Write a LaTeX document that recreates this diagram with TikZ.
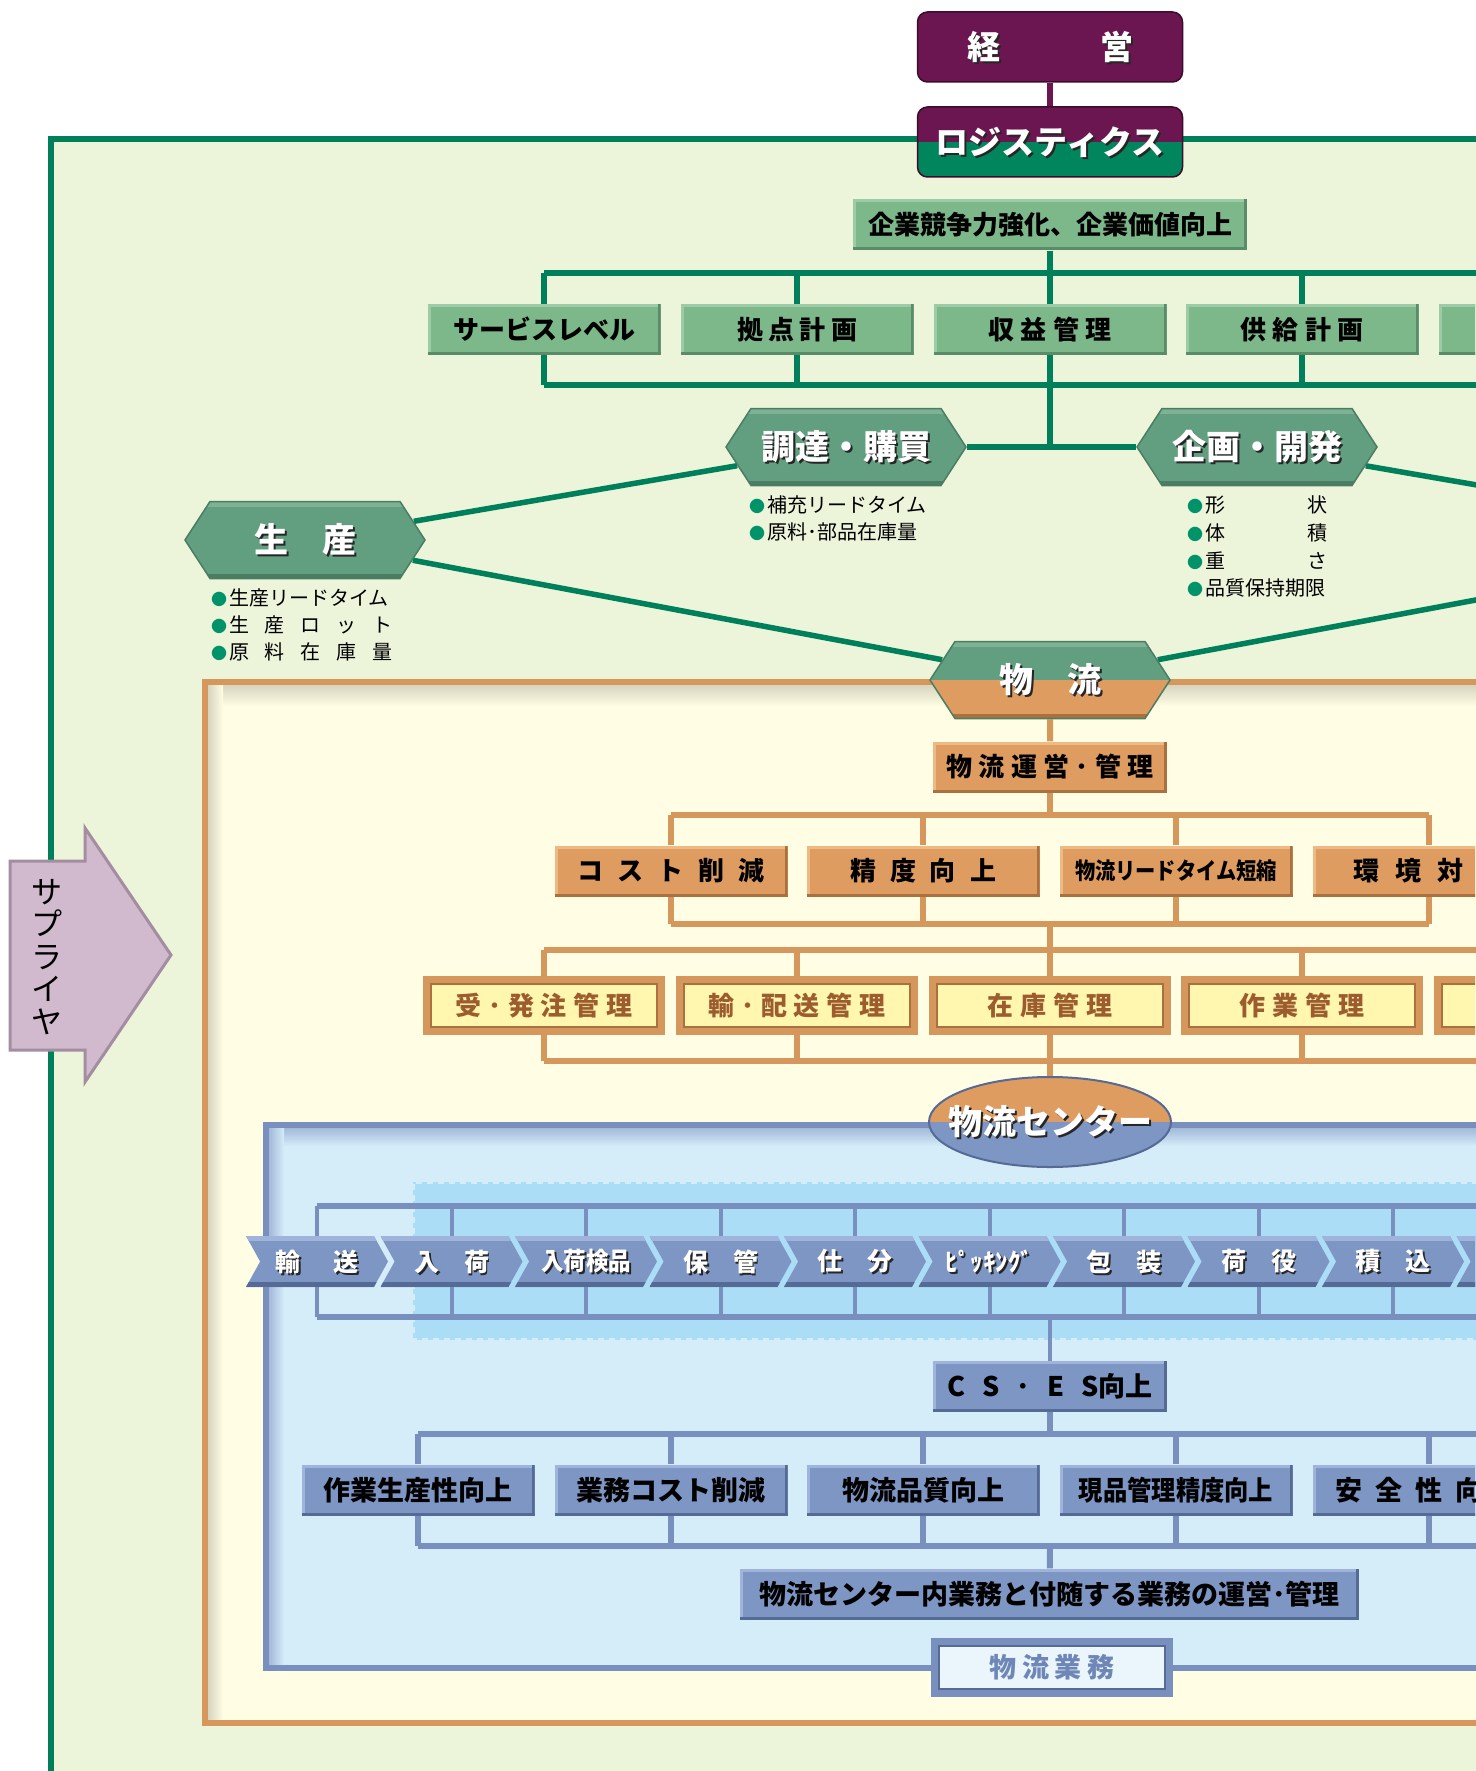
\documentclass[tikz,border=0pt]{standalone}
\usepackage{fontspec}
\usepackage{graphicx}
\setmainfont{Noto Sans CJK JP}
\usetikzlibrary{positioning,shapes.symbols,shapes.geometric}

\definecolor{greenbg}{HTML}{ECF4DA}
\definecolor{greenline}{HTML}{00805A}
\definecolor{gfill}{HTML}{7DB88A}
\definecolor{glight}{HTML}{9CCBA6}
\definecolor{gdark}{HTML}{5B8C69}
\definecolor{hexfill}{HTML}{629E80}
\definecolor{hexlight}{HTML}{7DB294}
\definecolor{hexdark}{HTML}{4B7D63}
\definecolor{purp}{HTML}{6B1650}
\definecolor{logigreen}{HTML}{00855C}
\definecolor{creambg}{HTML}{FFFDE3}
\definecolor{oline}{HTML}{D5975C}
\definecolor{ofill}{HTML}{DF9C60}
\definecolor{olight}{HTML}{EDB985}
\definecolor{odark}{HTML}{A8713F}
\definecolor{yfill}{HTML}{FFF7B0}
\definecolor{ytext}{HTML}{9C5C2D}
\definecolor{bluebg}{HTML}{D5ECF9}
\definecolor{dotbg}{HTML}{ABDDF6}
\definecolor{bline}{HTML}{7990BE}
\definecolor{bfill}{HTML}{7E96C4}
\definecolor{blight}{HTML}{A0B3DA}
\definecolor{bdark}{HTML}{566A96}
\definecolor{gyofill}{HTML}{EAF5FC}
\definecolor{gyotext}{HTML}{6E87B6}
\definecolor{supfill}{HTML}{D1B9CE}
\definecolor{supdark}{HTML}{A38EA1}
\definecolor{bulgreen}{HTML}{00936A}

\newcommand{\fss}[2]{\fontsize{#1}{#2}\selectfont}
\newcommand{\shd}[1]{\makebox[0pt][l]{\hspace*{2pt}\raisebox{-2pt}[0pt][0pt]{\color{black!85}#1}}{\color{white}#1}}
\newcommand{\bul}{{\color{bulgreen}\fss{16}{16}●}\hspace{2pt}}
\newcommand{\spread}[2]{\makebox[#1][s]{#2}}

\pgfdeclarelayer{frames}
\pgfdeclarelayer{wires}
\pgfsetlayers{frames,wires,main}

\tikzset{
  bevel/.style 2 args={path picture={
      \fill[#1] (path picture bounding box.south west) rectangle ([xshift=3pt]path picture bounding box.north west);
      \fill[#1] (path picture bounding box.north west) rectangle ([yshift=-3pt]path picture bounding box.north east);
      \fill[#2] (path picture bounding box.south west) rectangle ([yshift=3pt]path picture bounding box.south east);
      \fill[#2] (path picture bounding box.south east) rectangle ([xshift=-3pt]path picture bounding box.north east);
  }},
  bands/.style 2 args={path picture={
      \fill[#1] (path picture bounding box.north west) rectangle ([yshift=-5pt]path picture bounding box.north east);
      \fill[#2] (path picture bounding box.south west) rectangle ([yshift=5pt]path picture bounding box.south east);
  }},
  tbox/.style={rectangle, inner sep=0pt, minimum width=233pt, minimum height=51pt, font=\bfseries\fss{26}{26}},
  gbox/.style={tbox, fill=gfill, bevel={glight}{gdark}},
  obox/.style={tbox, fill=ofill, bevel={olight}{odark}},
  bbox/.style={tbox, fill=bfill, font=\bfseries\fss{27}{27}, bevel={blight}{bdark}},
  framebox/.style={tbox, line width=7pt, minimum width=235pt, minimum height=52pt, path picture={
      \draw[#1, line width=1.2pt] ([xshift=4.5pt,yshift=-4.5pt]path picture bounding box.north west) rectangle ([xshift=-4.5pt,yshift=4.5pt]path picture bounding box.south east);}},
  ybox/.style={framebox=odark, fill=yfill, draw=oline, text=ytext},
  gyobox/.style={framebox=bdark, fill=gyofill, draw=bline, text=gyotext, font=\bfseries\fss{27}{27}},
  topbox/.style={rectangle, rounded corners=10pt, inner sep=0pt, minimum width=265pt, minimum height=70pt, fill=purp, draw=purp!55!black, line width=1.5pt, font=\bfseries\fss{33}{33}},
  hexnode/.style={signal, signal to=east and west, signal pointer angle=114, inner sep=0pt, minimum width=240pt, minimum height=77pt, fill=hexfill, draw=hexdark, line width=1.5pt, font=\bfseries\fss{34}{34}, bands={hexlight}{hexdark}},
  chev/.style={signal, signal from=west, signal to=east, signal pointer angle=122, inner sep=0pt, minimum width=142pt, minimum height=51pt, fill=bfill, font=\bfseries\fss{25}{25}, bands={blight}{bdark}},
  bulline/.style={anchor=west, inner sep=0pt, font=\fss{20}{20}},
  gwire/.style={draw=greenline, line width=5.5pt},
  owire/.style={draw=oline, line width=6pt},
  bwire/.style={draw=bline, line width=6pt},
  pwire/.style={draw=purp, line width=6pt},
}

\begin{document}
\begin{tikzpicture}[x=1pt,y=-1pt]
\useasboundingbox (0,0) rectangle (1475,1771);
\clip (0,0) rectangle (1475,1771);

\begin{pgfonlayer}{frames}
  \fill[white] (0,0) rectangle (1475,1771);
  \fill[greenbg] (51,139) rectangle (1500,1800);
  \draw[greenline, line width=6pt] (51,1800) -- (51,139) -- (1500,139);
  % logistics area
  \fill[creambg] (205,682) rectangle (1500,1723);
  \shade[top color=black!16!creambg, bottom color=creambg] (208,685) rectangle (1500,706);
  \shade[left color=black!16!creambg, right color=creambg] (208,685) rectangle (223,1720);
  \draw[oline, line width=6pt] (1500,1723) -- (205,1723) -- (205,682) -- (1500,682);
  % center area
  \fill[bluebg] (266,1125) rectangle (1500,1668);
  \shade[top color=bline!55!bluebg, bottom color=bluebg] (269,1128) rectangle (1500,1146);
  \shade[left color=bline!55!bluebg, right color=bluebg] (269,1128) rectangle (284,1665);
  \fill[dotbg] (413,1182) rectangle (1500,1340);
  \draw[bluebg, line width=4pt, dash pattern=on 6pt off 5pt] (1500,1182) -- (413,1182) -- (413,1340) -- (1500,1340);
  \draw[bline, line width=6pt] (1500,1668) -- (266,1668) -- (266,1125) -- (1500,1125);
\end{pgfonlayer}

% supplier
\fill[supfill, draw=supdark, line width=3pt] (10,861) -- (85,861) -- (85,828) -- (171,955) -- (85,1082) -- (85,1050) -- (10,1050) -- cycle;
\node[font=\fss{31}{32.6}, align=center, inner sep=0pt] (supplier) at (47,957) {サ\\プ\\ラ\\イ\\ヤ};

% top
\node[topbox] (keiei) at (1050,47) {\shd{\spread{166pt}{経 営}}};
\node[topbox, path picture={\fill[logigreen, sharp corners] (path picture bounding box.west) rectangle (path picture bounding box.south east);}] (logi) at (1050,142) {\shd{ロジスティクス}};
\node[gbox, minimum width=394pt] (kigyo) at (1050,225) {企業競争力強化、企業価値向上};

\node[gbox] (svc) at (544,329.5) {サービスレベル};
\node[gbox] (kyoten) at (797,329.5) {\spread{120pt}{拠 点 計 画}};
\node[gbox] (shueki) at (1050,329.5) {\spread{123pt}{収 益 管 理}};
\node[gbox] (kyokyu) at (1302,329.5) {\spread{123pt}{供 給 計 画}};
\node[gbox] (gnext) at (1555,329.5) {};

\node[hexnode] (chou) at (846,447) {\shd{調達・購買}};
\node[hexnode] (kikaku) at (1257,447) {\shd{企画・開発}};
\node[hexnode] (sei) at (305,540) {\shd{生　産}};
\node[hexnode, path picture={
    \fill[ofill] (path picture bounding box.west) rectangle (path picture bounding box.south east);
    \fill[hexlight] (path picture bounding box.north west) rectangle ([yshift=-5pt]path picture bounding box.north east);
    \fill[odark] (path picture bounding box.south west) rectangle ([yshift=5pt]path picture bounding box.south east);
  }] (butsu) at (1050,680) {\shd{物　流}};
\coordinate (hanbai) at (1795,540);

\node[bulline] (choul1) at (749,505) {\bul 補充リードタイム};
\node[bulline] (choul2) at (749,532) {\bul 原料･部品在庫量};
\node[bulline] (seil1) at (211,598) {\bul 生産リードタイム};
\node[bulline] (seil2) at (211,625) {\bul\spread{163pt}{生 産 ロ ッ ト}};
\node[bulline] (seil3) at (211,652) {\bul\spread{163pt}{原 料 在 庫 量}};
\node[bulline] (kikl1) at (1187,505) {\bul\spread{122pt}{形 状}};
\node[bulline] (kikl2) at (1187,533) {\bul\spread{122pt}{体 積}};
\node[bulline] (kikl3) at (1187,561) {\bul\spread{122pt}{重 さ}};
\node[bulline] (kikl4) at (1187,588) {\bul 品質保持期限};

% logistics
\node[obox, minimum width=234pt] (unei) at (1050,767) {\spread{207pt}{物 流 運 営 ･ 管 理}};
\node[obox] (cost) at (671,871) {\spread{188pt}{コ ス ト 削 減}};
\node[obox] (seido) at (923,871) {\spread{146pt}{精 度 向 上}};
\node[obox] (lead) at (1176,871) {\scalebox{0.88}[1]{\fss{23}{23}物流リードタイム短縮}};
\node[obox] (kankyo) at (1429,871) {\spread{152pt}{環 境 対 策}};

\node[ybox] (juhatchu) at (544,1005.5) {\spread{177pt}{受 ･ 発 注 管 理}};
\node[ybox] (yuhaiso) at (797,1005.5) {\spread{177pt}{輸 ･ 配 送 管 理}};
\node[ybox] (zaiko) at (1050,1005.5) {\spread{125pt}{在 庫 管 理}};
\node[ybox] (sagyo) at (1302,1005.5) {\spread{125pt}{作 業 管 理}};
\node[ybox] (ynext) at (1555,1005.5) {};

\node[ellipse, minimum width=242pt, minimum height=90pt, inner sep=0pt, fill=bfill, draw=bdark, line width=2pt, path picture={
    \fill[ofill] (path picture bounding box.north west) rectangle (path picture bounding box.east);
  }, label={[font=\bfseries\fss{34}{34}, inner sep=0pt]center:\shd{物流センター}}] (center) at (1050,1122) {};

% center operations
\foreach \lab [count=\i from 0] in {{\spread{83pt}{輸 送}}, {\spread{75pt}{入 荷}}, {\scalebox{0.9}[1]{入荷検品}}, {\spread{75pt}{保 管}}, {\spread{75pt}{仕 分}}, {ﾋﾟｯｷﾝｸﾞ}, {\spread{75pt}{包 装}}, {\spread{75pt}{荷 役}}, {\spread{75pt}{積 込}}, {}}
  \node[chev] (ch\i) at (317+134.5*\i,1261.5) {\shd{\lab}};

\node[bbox, minimum width=234pt] (cses) at (1050,1386.5) {\spread{206pt}{C S ･ E S向上}};
\node[bbox] (seisan) at (418,1490) {作業生産性向上};
\node[bbox] (gcost) at (671,1490) {業務コスト削減};
\node[bbox] (hinshitsu) at (923,1490) {物流品質向上};
\node[bbox] (genpin) at (1176,1490) {\scalebox{0.9}[1]{現品管理精度向上}};
\node[bbox] (anzen) at (1429,1490) {\spread{187pt}{安 全 性 向 上}};
\node[bbox, minimum width=619pt] (unei2) at (1049.5,1594) {物流センター内業務と付随する業務の運営･管理};
\node[gyobox] (gyomu) at (1052,1667.5) {\spread{125pt}{物 流 業 務}};

\begin{pgfonlayer}{wires}
  \draw[pwire] (keiei) -- (logi);
  \coordinate (gT) at (1050,273);
  \coordinate (gB) at (1050,385);
  \draw[gwire] (kigyo) -- (gT);
  \draw[gwire] (svc.north |- gT) -- (1500,273);
  \draw[gwire] (svc.south |- gB) -- (1500,385);
  \foreach \n in {svc,kyoten,shueki,kyokyu,gnext} {
    \draw[gwire] (\n.north |- gT) -- (\n.north);
    \draw[gwire] (\n.south) -- (\n.south |- gB);
  }
  \draw[gwire] (gB) -- (gB |- chou.east);
  \draw[gwire] (chou.east) -- (kikaku.west);
  \draw[gwire] (sei) -- (chou);
  \draw[gwire] (sei) -- (butsu);
  \draw[gwire] (kikaku) -- (hanbai);
  \draw[gwire] (butsu) -- (hanbai);

  \coordinate (oT) at (1050,815);
  \coordinate (oB) at (1050,924);
  \draw[owire] (butsu) -- (unei);
  \draw[owire] (unei) -- (oT);
  \draw[owire] (cost.north |- oT) -- (kankyo.north |- oT);
  \draw[owire] (cost.south |- oB) -- (kankyo.south |- oB);
  \foreach \n in {cost,seido,lead,kankyo} {
    \draw[owire] (\n.north |- oT) -- (\n.north);
    \draw[owire] (\n.south) -- (\n.south |- oB);
  }
  \coordinate (yT) at (1050,950);
  \coordinate (yB) at (1050,1061);
  \draw[owire] (oB) -- (yT);
  \draw[owire] (juhatchu.north |- yT) -- (1500,950);
  \draw[owire] (juhatchu.south |- yB) -- (1500,1061);
  \foreach \n in {juhatchu,yuhaiso,zaiko,sagyo,ynext} {
    \draw[owire] (\n.north |- yT) -- (\n.north);
    \draw[owire] (\n.south) -- (\n.south |- yB);
  }
  \draw[owire] (yB) -- (center);

  \coordinate (cT) at (1050,1205.5);
  \coordinate (cB) at (1050,1317);
  \draw[bwire] (ch0 |- cT) -- (1500,1205.5);
  \draw[bwire] (ch0 |- cB) -- (1500,1317);
  \foreach \i in {0,...,9}
    \draw[bwire, line width=4pt] (ch\i |- cT) -- (ch\i |- cB);
  \draw[bwire, line width=4pt] (cB) -- (cses);
  \coordinate (bT) at (1050,1434);
  \coordinate (bB) at (1050,1546);
  \draw[bwire] (cses) -- (bT);
  \draw[bwire] (seisan.north |- bT) -- (1500,1434);
  \draw[bwire] (seisan.south |- bB) -- (1500,1546);
  \foreach \n in {seisan,gcost,hinshitsu,genpin,anzen} {
    \draw[bwire] (\n.north |- bT) -- (\n.north);
    \draw[bwire] (\n.south) -- (\n.south |- bB);
  }
  \draw[bwire] (bB) -- (unei2);
\end{pgfonlayer}
\end{tikzpicture}
\end{document}
